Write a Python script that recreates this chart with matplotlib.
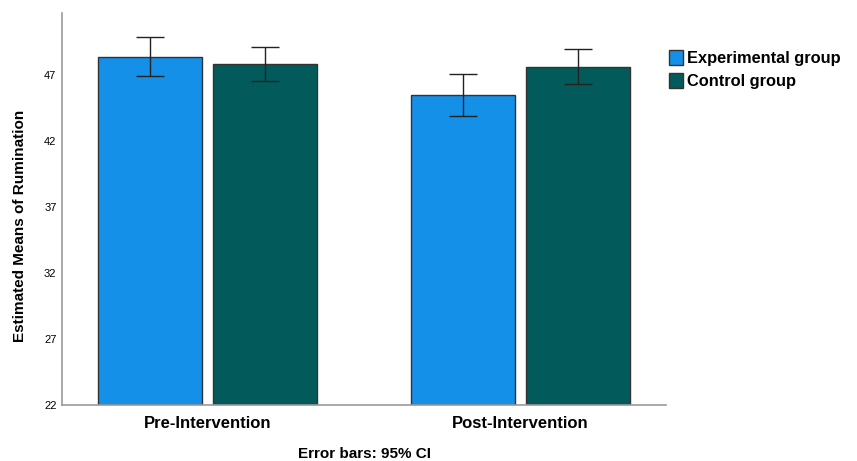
import matplotlib.pyplot as plt
from matplotlib.patches import Patch
import numpy as np

plt.rcParams['font.family'] = ['Liberation Sans', 'DejaVu Sans']

phases = ['Pre-Intervention', 'Post-Intervention']
groups = ['Experimental group', 'Control group']
colors = ['#1590E8', '#025B5A']

means = {
    'Experimental group': [48.4, 45.45],
    'Control group': [47.85, 47.6],
}
ci_low = {
    'Experimental group': [46.9, 43.9],
    'Control group': [46.55, 46.3],
}
ci_high = {
    'Experimental group': [49.9, 47.05],
    'Control group': [49.1, 48.95],
}

fig = plt.figure(figsize=(8.57, 4.61), dpi=100)
ax = fig.add_axes([62 / 857, 1 - 405 / 461, 604 / 857, 392 / 461])

x = np.arange(len(phases))
width = 0.333
offsets = [-0.184, 0.184]
for g, c, off in zip(groups, colors, offsets):
    m = np.array(means[g])
    lo = m - np.array(ci_low[g])
    hi = np.array(ci_high[g]) - m
    ax.bar(x + off, m - 22, width, bottom=22, color=c, edgecolor='#333333',
           linewidth=1, zorder=2)
    ax.errorbar(x + off, m, yerr=[lo, hi], fmt='none', ecolor='#222222',
                elinewidth=1, capsize=10, capthick=1, zorder=3)

ax.set_xlim(-0.4656, 1.467)
ax.set_ylim(22, 51.7)
ax.set_yticks([22, 27, 32, 37, 42, 47])
ax.set_xticks(x)
ax.set_xticklabels(phases, fontsize=12, fontweight='bold')
ax.tick_params(axis='y', length=0, labelsize=8, pad=4)
ax.tick_params(axis='x', length=0, pad=8)
for s in ['top', 'right']:
    ax.spines[s].set_visible(False)
for s in ['left', 'bottom']:
    ax.spines[s].set_color('#999999')
    ax.spines[s].set_linewidth(1.2)

ax.set_ylabel('Estimated Means of Rumination', fontsize=11, fontweight='bold')
ax.yaxis.set_label_coords(-0.058, 0.458)
ax.set_xlabel('Error bars: 95% CI', fontsize=11, fontweight='bold')
ax.xaxis.set_label_coords(0.5, -0.107)

handles = [Patch(facecolor=c, edgecolor='#333333', label=g)
           for g, c in zip(groups, colors)]
leg = fig.legend(handles=handles, loc='upper left',
                 bbox_to_anchor=(662 / 857, 1 - 43 / 461), frameon=False,
                 prop={'size': 11.8, 'weight': 'bold'}, handlelength=0.9,
                 handleheight=1.1, handletextpad=0.25, labelspacing=0.4,
                 borderaxespad=0)

fig.savefig('out.png', dpi=100)
